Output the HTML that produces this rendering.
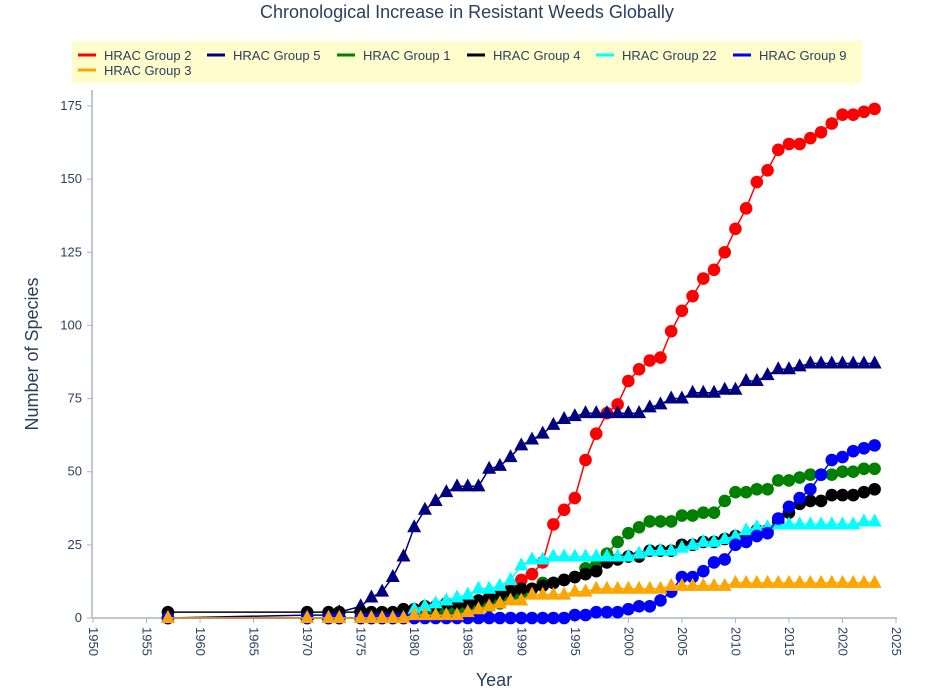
<!DOCTYPE html>
<html><head><meta charset="utf-8"><style>
body{margin:0;background:#fff;width:933px;height:694px;overflow:hidden;font-family:"Liberation Sans",Arial,sans-serif}
</style></head><body>
<svg id="s" width="933" height="694" xmlns="http://www.w3.org/2000/svg" font-family="Liberation Sans, Arial, sans-serif">
<rect x="0" y="0" width="933" height="694" fill="#fff"/>
<text x="467" y="18" text-anchor="middle" font-size="18" fill="#2a3f5f">Chronological Increase in Resistant Weeds Globally</text>
<rect x="72" y="41" width="790" height="42" fill="#fffdcc"/>
<g font-size="13" fill="#2a3f5f">
<line x1="78" y1="55" x2="96" y2="55" stroke="#ff0000" stroke-width="3"/><text x="104" y="60">HRAC Group 2</text>
<line x1="207" y1="55" x2="225" y2="55" stroke="#000080" stroke-width="3"/><text x="233" y="60">HRAC Group 5</text>
<line x1="337" y1="55" x2="355" y2="55" stroke="#008000" stroke-width="3"/><text x="363" y="60">HRAC Group 1</text>
<line x1="467" y1="55" x2="485" y2="55" stroke="#000000" stroke-width="3"/><text x="493" y="60">HRAC Group 4</text>
<line x1="596" y1="55" x2="614" y2="55" stroke="#00ffff" stroke-width="3"/><text x="622" y="60">HRAC Group 22</text>
<line x1="733" y1="55" x2="751" y2="55" stroke="#0000ff" stroke-width="3"/><text x="759" y="60">HRAC Group 9</text>
<line x1="78" y1="70" x2="96" y2="70" stroke="#ffa500" stroke-width="3"/><text x="104" y="75">HRAC Group 3</text>
</g>
<line x1="92" y1="90" x2="92" y2="618" stroke="#a8b4cc" stroke-width="1.5"/>
<line x1="92" y1="618" x2="897" y2="618" stroke="#a8b4cc" stroke-width="1.5"/>
<g id="ax" font-size="13" fill="#2a3f5f"></g>
<text x="38" y="354" text-anchor="middle" font-size="18" fill="#2a3f5f" transform="rotate(-90 38 354)">Number of Species</text>
<text x="494" y="686" text-anchor="middle" font-size="18" fill="#2a3f5f">Year</text>
<g id="d"></g>
</svg>
<script>
var NS="http://www.w3.org/2000/svg";
function X(y){return 93+(y-1950)*10.707}
function Y(v){return 618-v*2.926}
function el(p,t,a,txt){var e=document.createElementNS(NS,t);for(var k in a)e.setAttribute(k,a[k]);if(txt!=null)e.textContent=txt;p.appendChild(e);return e}
var ax=document.getElementById('ax');
for(var v=0;v<=175;v+=25){el(ax,'line',{x1:87,y1:Y(v),x2:92,y2:Y(v),stroke:'#a8b4cc'});el(ax,'text',{x:82,y:Y(v)+4,'text-anchor':'end'},v)}
for(var y=1950;y<=2025;y+=5){var x=X(y);el(ax,'line',{x1:x,y1:618,x2:x,y2:623,stroke:'#a8b4cc'});el(ax,'text',{x:x-4,y:627,transform:'rotate(90 '+(x-4)+' 627)'},y)}
var years=[1957,1970,1972,1973];for(var y=1975;y<=2023;y++)years.push(y);
function mk(m){return years.map(function(y){var v=m(y);return [y,v]})}
function tab(start,arr,pre){return function(y){if(y<start)return pre;var i=y-start;return arr[Math.min(i,arr.length-1)]}}
var red=tab(1981,[1,2,3,3,4,5,6,8,10,13,15,19,32,37,41,54,63,70,73,81,85,88,89,98,105,110,116,119,125,133,140,149,153,160,162,162,164,166,169,172,172,173,174],0);
var navy=function(y){if(y==1957)return 0;if(y<1975)return y==1973?2:1;return tab(1975,[4,7,9,14,21,31,37,40,43,45,45,45,51,52,55,59,61,63,66,68,69,70,70,70,70,70,70,72,73,75,75,77,77,77,78,78,81,81,83,85,85,86,87,87,87,87,87,87,87],0)(y)};
var green=tab(1980,[1,1,2,2,2,3,3,4,5,7,8,10,12,12,13,14,17,18,22,26,29,31,33,33,33,35,35,36,36,40,43,43,44,44,47,47,48,49,49,49,50,50,51,51],0);
var black=function(y){if(y<1979)return 2;return tab(1979,[3,3,4,4,5,5,5,6,7,8,9,10,10,11,12,13,14,15,16,19,20,21,21,23,23,23,25,25,26,26,27,28,28,30,30,33,36,39,40,40,42,42,42,43,44],0)(y)};
var cyan=tab(1980,[3,4,5,6,7,8,10,10,11,13,18,20,20,21,21,21,21,21,21,21,21,22,23,23,23,24,25,26,26,27,28,30,31,31,32,32,32,32,32,32,32,32,33,33],0);
var blue=tab(1990,[0,0,0,0,0,1,1,2,2,2,3,4,4,6,9,14,14,16,19,20,25,26,28,29,34,38,41,44,49,54,55,57,58,59],0);
var orange=tab(1980,[1,1,1,1,1,2,3,4,5,6,6,8,8,8,8,9,9,10,10,10,10,10,10,10,11,11,11,11,11,11,12,12,12,12,12,12,12,12,12,12,12,12,12,12],0);
var series=[[red,'#ff0000','c'],[navy,'#000080','t'],[green,'#008000','c'],[black,'#000000','c'],[cyan,'#00ffff','t'],[blue,'#0000ff','c'],[orange,'#ffa500','t']];
var d=document.getElementById('d');
series.forEach(function(s){var pts=mk(s[0]);var p=pts.map(function(q){return X(q[0]).toFixed(1)+','+Y(q[1]).toFixed(1)}).join(' ');
var g=el(d,'g',{});el(g,'polyline',{points:p,fill:'none',stroke:s[1],'stroke-width':1.5});
pts.forEach(function(q){var x=X(q[0]),y=Y(q[1]);if(s[2]=='c')el(g,'circle',{cx:x,cy:y,r:6.3,fill:s[1]});else el(g,'polygon',{points:(x)+','+(y-8)+' '+(x-7)+','+(y+5)+' '+(x+7)+','+(y+5),fill:s[1]})})});
</script>
</body></html>
